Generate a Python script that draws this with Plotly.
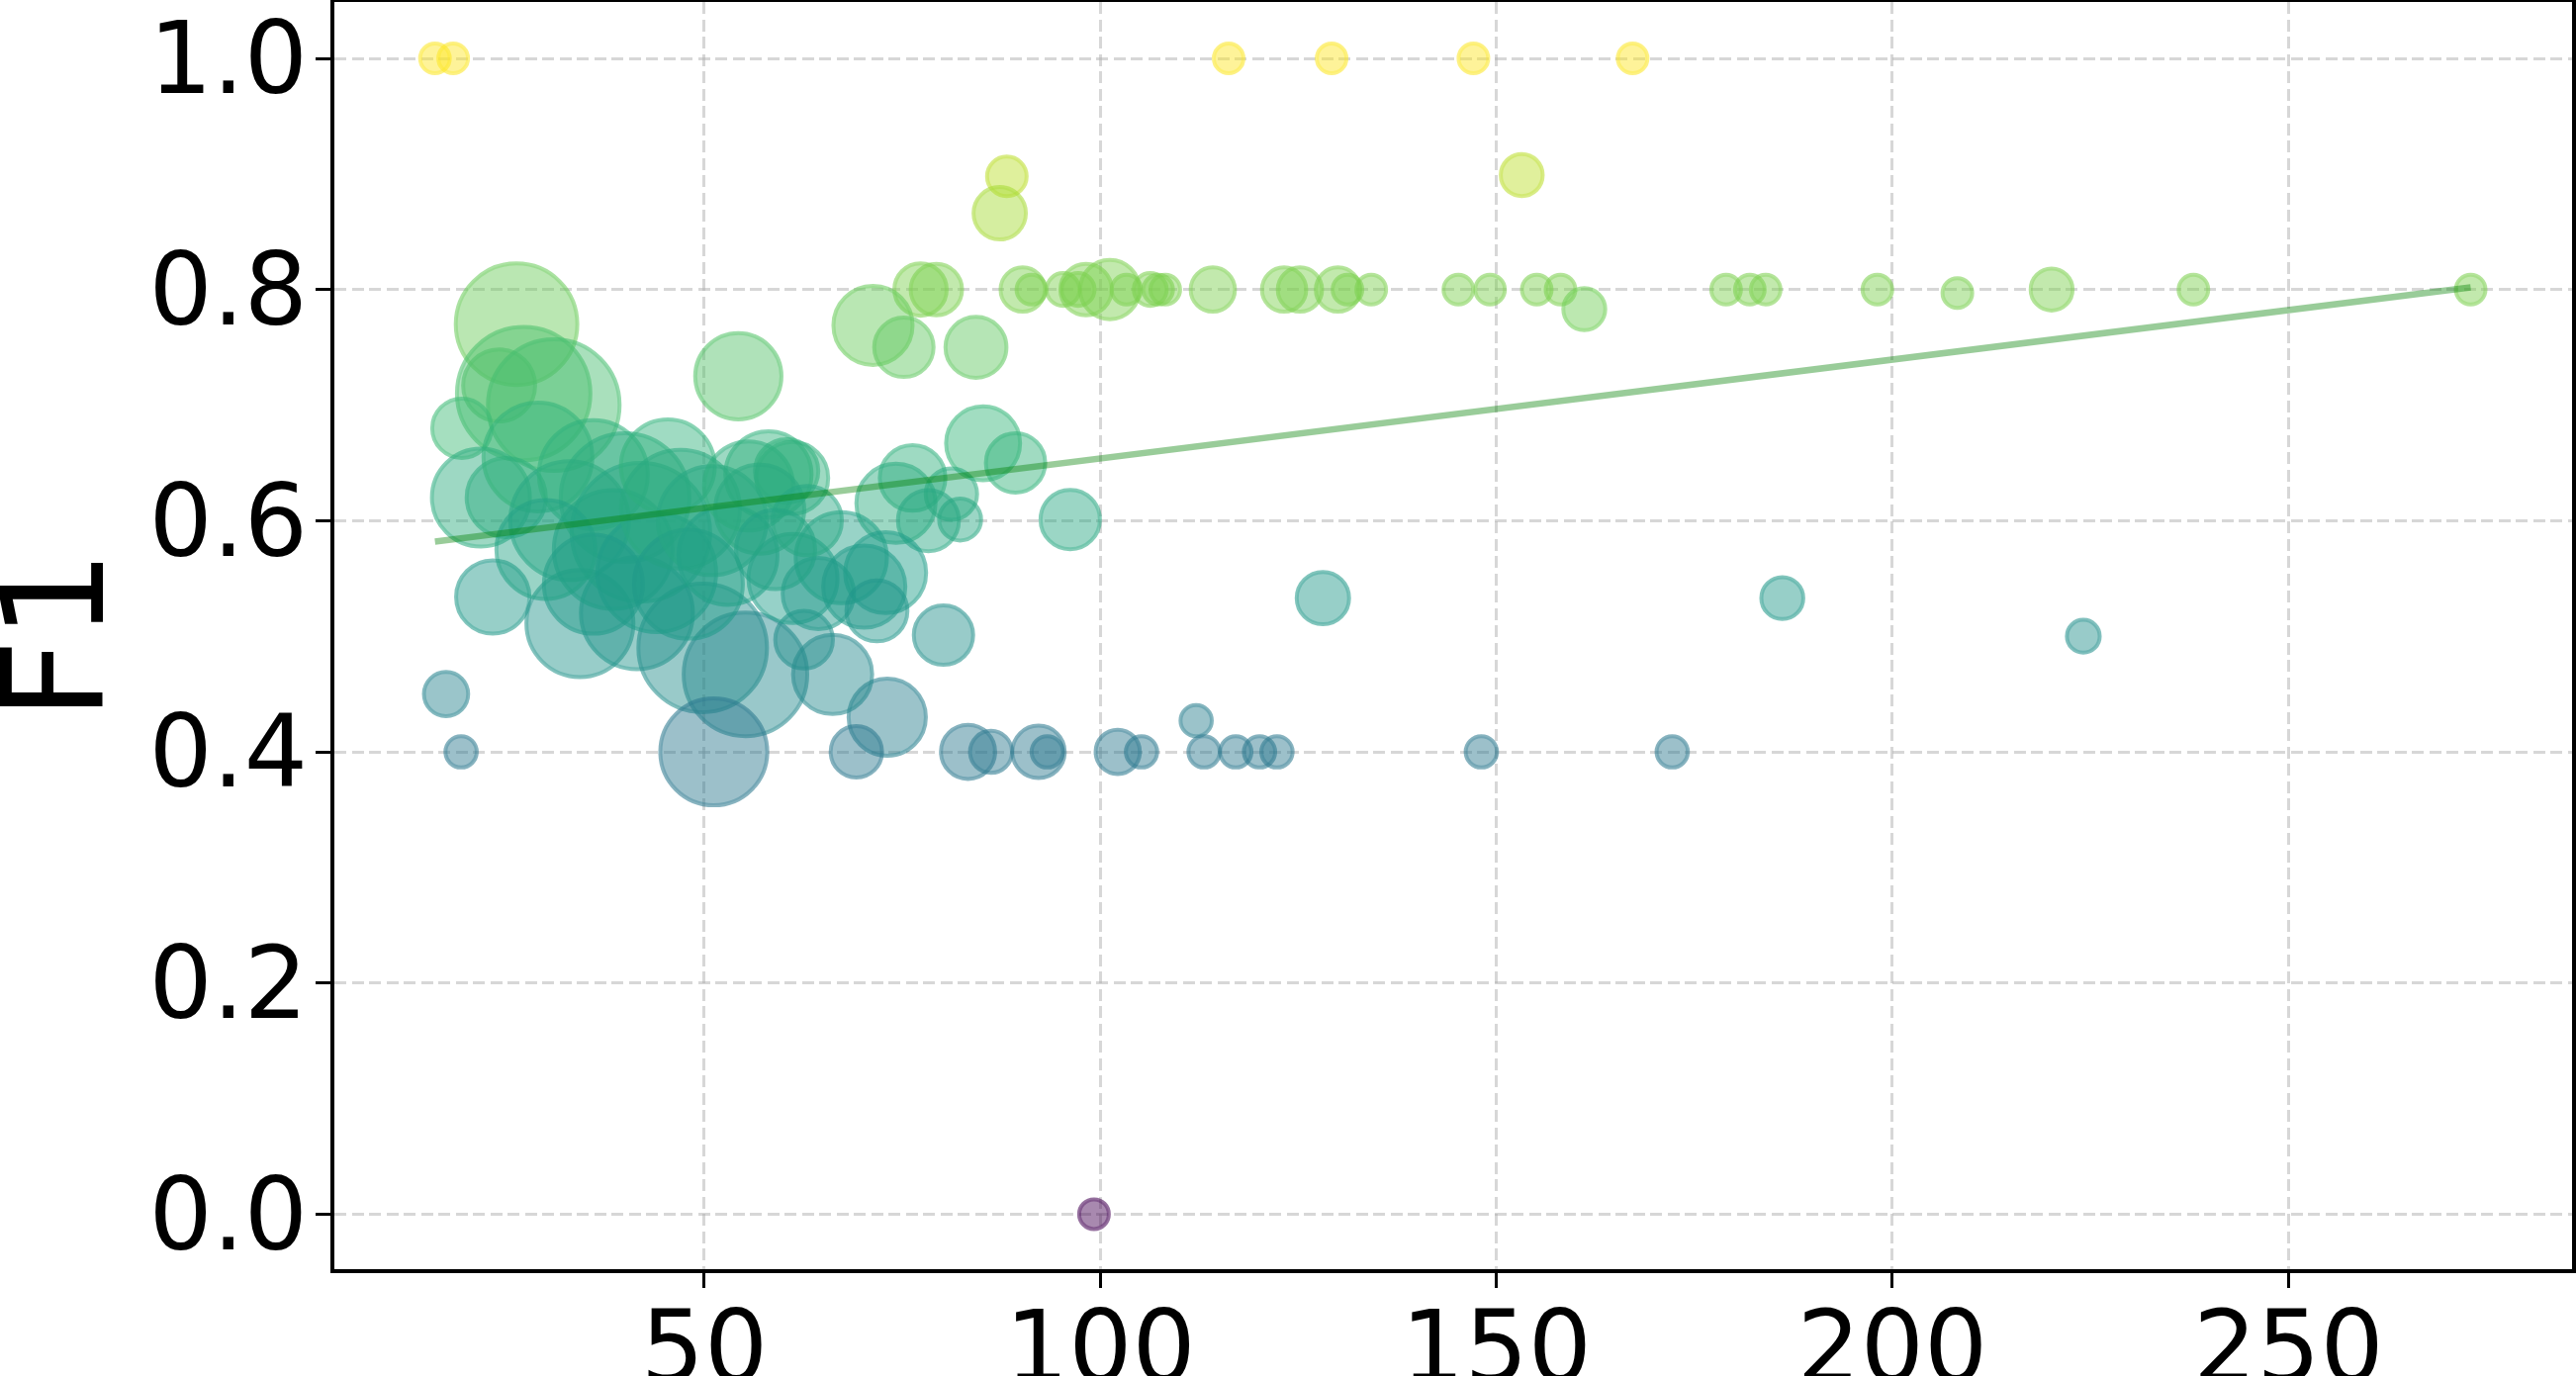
import numpy as np
import plotly.graph_objects as go
from plotly.colors import sample_colorscale

# ---------------- data ----------------
# x value, F1 score, bubble weight (marker diameter ~ 10*sqrt(weight) px)
x_vals = [
    # F1 = 1.0 / 0.9
    16.0, 18.3, 116.2, 129.2, 147.1, 167.2,
    88.2, 87.3, 153.2,
    # 0.8 row
    77.3, 79.3, 90.2, 91.3, 95.3, 97.2, 98.2, 101.2, 103.3, 106.3, 107.3, 108.2,
    114.2, 123.2, 125.2, 130.0, 131.2, 134.2, 145.2, 149.2, 155.1, 158.1, 161.1,
    179.0, 182.0, 184.0, 198.1, 208.2, 220.1, 238.0, 273.0,
    # 0.7x
    71.3, 75.2, 84.3, 54.3,
    # left group
    26.3, 27.2, 24.1, 31.0, 19.4, 21.8, 25.0, 23.3, 17.4, 19.3,
    # middle-right
    85.2, 89.3, 76.3, 81.2, 74.2, 78.3, 82.3, 96.2, 80.2, 73.1,
    69.2, 83.3, 86.2, 92.2, 93.3, 102.2, 105.2, 112.1, 113.1, 117.1, 120.1, 122.3,
    148.1, 172.2, 128.1, 186.1, 224.1, 99.2,
    # lower cluster
    34.3, 41.5, 49.8, 55.2, 51.2, 66.2, 62.6, 61.2, 64.4, 67.3, 70.2, 72.9, 71.8,
    58.1, 60.4, 61.1,
    # dense blob
    29.0, 33.0, 36.0, 38.5, 40.0, 42.0, 45.4, 44.0, 47.0, 48.0, 51.0, 53.0,
    55.6, 57.0, 59.0, 63.0, 36.0, 30.0,
]
f1_vals = [
    1.0, 1.0, 1.0, 1.0, 1.0, 1.0,
    0.898, 0.866, 0.899,
    0.80, 0.80, 0.80, 0.80, 0.80, 0.80, 0.80, 0.80, 0.80, 0.80, 0.80, 0.80,
    0.80, 0.80, 0.80, 0.80, 0.80, 0.80, 0.80, 0.80, 0.80, 0.80, 0.783,
    0.80, 0.80, 0.80, 0.80, 0.797, 0.80, 0.80, 0.80,
    0.769, 0.750, 0.750, 0.725,
    0.770, 0.710, 0.717, 0.700, 0.680, 0.620, 0.620, 0.534, 0.450, 0.400,
    0.667, 0.650, 0.637, 0.623, 0.615, 0.600, 0.601, 0.601, 0.501, 0.430,
    0.400, 0.400, 0.400, 0.400, 0.400, 0.400, 0.400, 0.427, 0.400, 0.400, 0.400, 0.400,
    0.400, 0.400, 0.533, 0.533, 0.500, 0.000,
    0.511, 0.520, 0.490, 0.467, 0.400, 0.467, 0.497, 0.550, 0.537, 0.568, 0.543, 0.555, 0.522,
    0.640, 0.643, 0.637,
    0.655, 0.600, 0.640, 0.575, 0.620, 0.590, 0.647, 0.555, 0.610, 0.545, 0.600, 0.570,
    0.630, 0.610, 0.575, 0.600, 0.545, 0.575,
]
weights = [
    9, 9, 9, 9, 9, 9,
    16, 28, 18,
    28, 27, 20, 9, 11, 11, 27, 36, 9, 11, 9, 9,
    20, 20, 20, 20, 9, 9, 9, 9, 9, 9, 18,
    9, 9, 9, 9, 9, 18, 9, 9,
    64, 36, 38, 76,
    151, 182, 53, 177, 36, 98, 64, 55, 20, 10,
    56, 36, 44, 27, 64, 38, 18, 36, 36, 61,
    27, 30, 18, 28, 10, 20, 10, 10, 10, 10, 10, 10,
    10, 10, 28, 18, 11, 9,
    117, 128, 169, 156, 117, 64, 34, 81, 52, 85, 69, 67, 38,
    76, 41, 53,
    121, 144, 121, 144, 169, 196, 90, 144, 144, 121, 121, 100,
    81, 81, 64, 49, 100, 100,
]

# linear trend
trend_slope = 0.000856
trend_intercept = 0.5682

x_ticks = [50, 100, 150, 200, 250]
y_ticks = [0.0, 0.2, 0.4, 0.6, 0.8, 1.0]

# ---------------- styling ----------------
FONT = "DejaVu Sans"
W, H = 2604, 1391

def rgba(c, a):
    c = c.replace("rgb(", "").replace(")", "")
    r, g, b = [float(v) for v in c.split(",")]
    return f"rgba({int(round(r))},{int(round(g))},{int(round(b))},{a})"

base = sample_colorscale("Viridis", [min(max(v, 0), 1) for v in f1_vals])
fill = [rgba(c, 0.66) for c in base]
edge = [rgba(c, 0.8) for c in base]
diam = [10 * np.sqrt(w) for w in weights]

fig = go.Figure()
fig.add_trace(go.Scatter(
    x=x_vals, y=f1_vals, mode="markers",
    marker=dict(size=diam, sizemode="diameter", color=fill,
                line=dict(color=edge, width=4)),
    showlegend=False, hoverinfo="x+y",
))

xs = np.array([min(x_vals), max(x_vals)])
fig.add_trace(go.Scatter(
    x=xs, y=trend_intercept + trend_slope * xs, mode="lines",
    line=dict(color="rgba(0,128,0,0.4)", width=6.5),
    showlegend=False, hoverinfo="skip",
))

axis_common = dict(
    showline=True, linecolor="black", linewidth=3.5, mirror=True,
    ticks="outside", ticklen=15, tickwidth=3.3, tickcolor="black",
    showgrid=True, gridcolor="rgba(176,176,176,0.5)", gridwidth=3.3,
    griddash="12px,5.5px", zeroline=False, automargin=False,
    tickfont=dict(family=FONT, size=101, color="black"),
)

fig.update_layout(
    width=W, height=H,
    margin=dict(l=338, r=4, t=2, b=108),
    paper_bgcolor="white", plot_bgcolor="white",
    xaxis=dict(range=[3.3, 285.8], tickvals=x_ticks, ticklabelstandoff=-26, **axis_common),
    yaxis=dict(range=[-0.0476, 1.0488], tickvals=y_ticks, tickformat=".1f",
               ticklabelstandoff=-12, **axis_common),
    font=dict(family=FONT),
    annotations=[dict(
        text="F1", xref="paper", yref="paper", x=(-338 - 30) / 2262, y=0.5,
        xanchor="left", yanchor="middle", textangle=-90, showarrow=False,
        font=dict(family=FONT, size=142, color="black"),
    )],
)

fig.write_html("out.html")
